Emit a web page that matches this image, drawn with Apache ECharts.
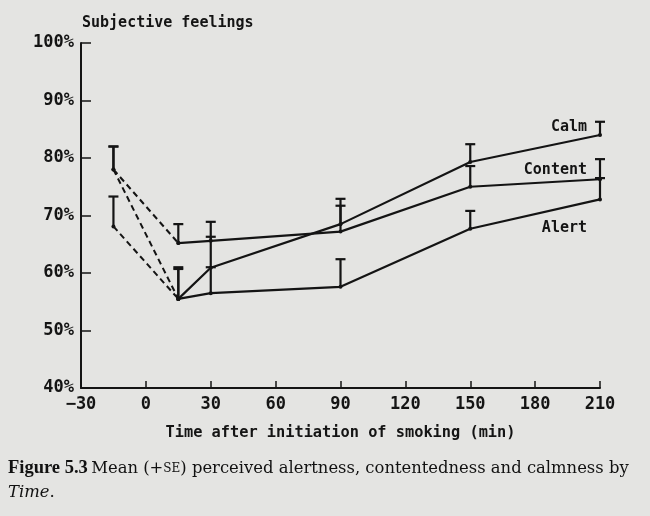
<!DOCTYPE html>
<html>
<head>
<meta charset="utf-8">
<script src="https://cdn.jsdelivr.net/npm/echarts@6/dist/echarts.min.js"></script>
<style>
html,body{margin:0;padding:0;background:#e4e4e2;}
#c{width:650px;height:516px;}
</style>
</head>
<body>
<div id="c"></div>
<script>
// ---- data ----
var times = [-15, 15, 30, 90, 150, 210];
var seriesNames = ['Calm', 'Content', 'Alert'];
var calmMean    = [78.0, 55.5, 60.9, 68.5, 79.3, 84.0];
var calmSE      = [82.0, 61.0, 66.3, 72.9, 82.4, 86.3];
var contentMean = [78.0, 65.2, 65.6, 67.2, 75.0, 76.3];
var contentSE   = [82.0, 68.5, 68.9, 71.7, 78.6, 79.8];
var alertMean   = [68.1, 55.5, 56.5, 57.6, 67.7, 72.8];
var alertSE     = [73.3, 60.7, 61.0, 62.4, 70.8, 76.5];
var xTicks = [-30, 0, 30, 60, 90, 120, 150, 180, 210];
var yTicks = [40, 50, 60, 70, 80, 90, 100];
var chartTitle = 'Subjective feelings';
var xTitle = 'Time after initiation of smoking (min)';

var means = [calmMean, contentMean, alertMean];
var tops = [calmSE, contentSE, alertSE];
var labelOffsets = [[-6, -8], [-6, -9], [-6, 29]];

var ink = '#141414';
var mono = '"DejaVu Sans Mono", monospace';
var serif = '"Liberation Serif", serif';
var serif2 = '"DejaVu Serif", serif';

var series = [];
means.forEach(function (m, k) {
  // dashed segment: baseline -> first post-smoking point
  series.push({
    type: 'line', name: seriesNames[k] + ' base',
    data: [[times[0], m[0]], [times[1], m[1]]],
    symbol: 'circle', symbolSize: 4,
    itemStyle: {color: ink},
    lineStyle: {color: ink, width: 2, type: [6, 4]},
    silent: true, z: 3
  });
  // solid part
  var solid = [];
  for (var i = 1; i < times.length; i++) {
    var d = {value: [times[i], m[i]]};
    if (i === times.length - 1) {
      d.label = {
        show: true, formatter: seriesNames[k], position: 'left',
        offset: labelOffsets[k], color: ink,
        fontFamily: mono, fontSize: 15, fontWeight: 'bold'
      };
    }
    solid.push(d);
  }
  series.push({
    type: 'line', name: seriesNames[k],
    data: solid,
    symbol: 'circle', symbolSize: 4,
    itemStyle: {color: ink},
    lineStyle: {color: ink, width: 2.2},
    silent: true, z: 4
  });
  // error bars (+SE)
  var eb = times.map(function (t, i) { return [t, m[i], tops[k][i]]; });
  series.push({
    type: 'custom', name: seriesNames[k] + ' SE',
    data: eb, silent: true, z: 5,
    renderItem: function (params, api) {
      var p0 = api.coord([api.value(0), api.value(1)]);
      var p1 = api.coord([api.value(0), api.value(2)]);
      var w = 5;
      var st = {stroke: ink, lineWidth: 2.2};
      return {
        type: 'group',
        children: [
          {type: 'line', shape: {x1: p0[0], y1: p0[1], x2: p1[0], y2: p1[1]}, style: st},
          {type: 'line', shape: {x1: p1[0] - w, y1: p1[1], x2: p1[0] + w, y2: p1[1]}, style: st}
        ]
      };
    }
  });
});

var chart = echarts.init(document.getElementById('c'), null, {renderer: 'canvas'});
chart.setOption({
  backgroundColor: '#e4e4e2',
  animation: false,
  title: {
    text: chartTitle, left: 77, top: 11,
    textStyle: {fontFamily: mono, fontSize: 15, fontWeight: 'bold', color: ink}
  },
  grid: {left: 81, right: 50, top: 43, bottom: 128},
  xAxis: {
    type: 'value', min: xTicks[0], max: xTicks[xTicks.length - 1], interval: 30,
    axisLine: {onZero: false, lineStyle: {color: ink, width: 2}},
    axisTick: {inside: true, length: 7, lineStyle: {color: ink, width: 1.5}},
    splitLine: {show: false},
    axisLabel: {
      color: ink, fontFamily: mono, fontSize: 17, fontWeight: 'bold', margin: 8,
      formatter: function (v) { return v < 0 ? '\u2212' + Math.abs(v) : String(v); }
    },
    name: xTitle, nameLocation: 'middle', nameGap: 38,
    nameTextStyle: {color: ink, fontFamily: mono, fontSize: 15.3, fontWeight: 'bold'}
  },
  yAxis: {
    type: 'value', min: yTicks[0], max: yTicks[yTicks.length - 1], interval: 10,
    axisLine: {show: true, onZero: false, lineStyle: {color: ink, width: 2}},
    axisTick: {show: true, inside: true, length: 10, lineStyle: {color: ink, width: 1.5}},
    splitLine: {show: false},
    axisLabel: {color: ink, fontFamily: mono, fontSize: 17, fontWeight: 'bold', margin: 7, formatter: '{value}%'}
  },
  graphic: [
    {
      type: 'text', left: 8, top: 459,
      style: {
        text: '{b|Figure 5.3} {r|Mean (+}{s|SE}{r|) perceived alertness, contentedness and calmness by}\n{i|Time}{r|.}',
        rich: {
          b: {fontFamily: serif, fontSize: 18.5, fontWeight: 'bold', fill: '#111', lineHeight: 24},
          r: {fontFamily: serif2, fontSize: 16.4, fill: '#111', lineHeight: 24},
          s: {fontFamily: serif2, fontSize: 12, fill: '#111', lineHeight: 24},
          i: {fontFamily: serif2, fontSize: 16.4, fontStyle: 'italic', fill: '#111', lineHeight: 24}
        }
      }
    }
  ],
  series: series
});
</script>
</body>
</html>
